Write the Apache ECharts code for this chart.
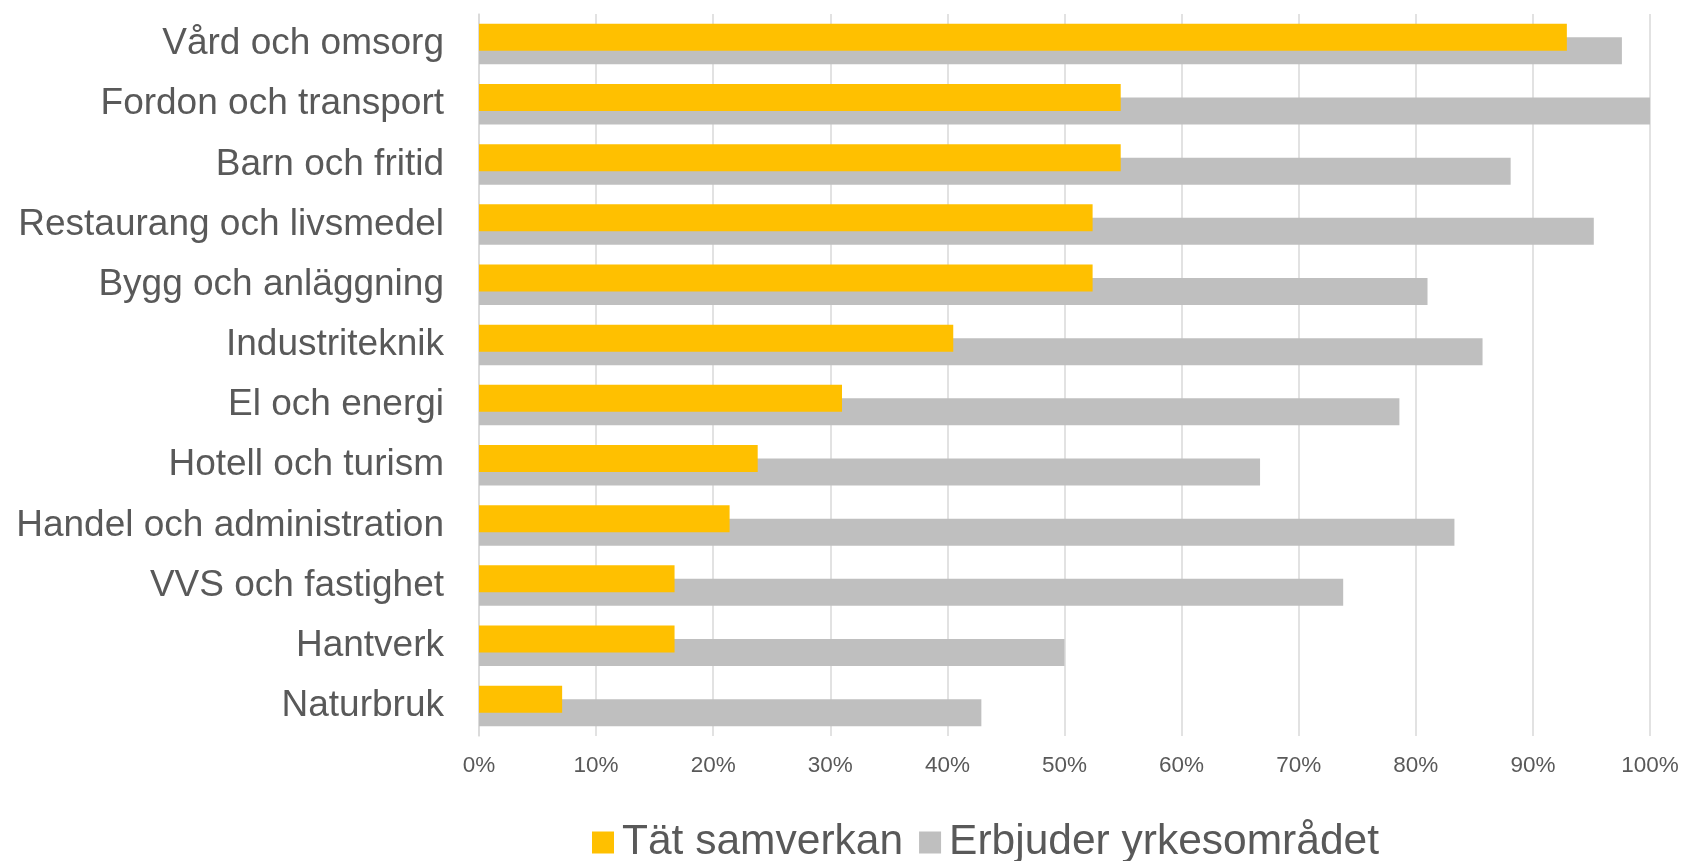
<!DOCTYPE html>
<html>
<head>
<meta charset="utf-8">
<script src="https://cdn.jsdelivr.net/npm/echarts@6/dist/echarts.min.js"></script>
<style>
html,body{margin:0;padding:0;background:#fff;}
#chart{width:1683px;height:861px;}
</style>
</head>
<body>
<div id="chart"></div>
<script>
const categories = ["Vård och omsorg","Fordon och transport","Barn och fritid","Restaurang och livsmedel","Bygg och anläggning","Industriteknik","El och energi","Hotell och turism","Handel och administration","VVS och fastighet","Hantverk","Naturbruk"];
const seriesNames = ["Tät samverkan","Erbjuder yrkesområdet"];
const tatSamverkan = [92.9,54.8,54.8,52.4,52.4,40.5,31.0,23.8,21.4,16.7,16.7,7.1];
const erbjuder = [97.6,100,88.1,95.2,81.0,85.7,78.6,66.7,83.3,73.8,50.0,42.9];
const xTicks = {min:0,max:100,interval:10};

const chart = echarts.init(document.getElementById('chart'));
const textColor = '#595959';
const font = 'Liberation Sans, Arial, sans-serif';
chart.setOption({
  animation:false,
  backgroundColor:'#fff',
  grid:{left:479,right:33,top:14,bottom:125,containLabel:false},
  legend:{
    data:seriesNames,
    left:587,
    top:816,
    itemWidth:22,itemHeight:22,itemGap:16,
    icon:'rect',
    textStyle:{fontFamily:font,fontSize:42.5,color:textColor,padding:[0,0,0,3]}
  },
  xAxis:{
    type:'value',min:xTicks.min,max:xTicks.max,interval:xTicks.interval,
    axisLine:{show:false},axisTick:{show:false},
    splitLine:{show:true,lineStyle:{color:'#D9D9D9',width:1.5}},
    axisLabel:{formatter:'{value}%',fontFamily:font,fontSize:22.5,color:textColor,margin:18}
  },
  yAxis:{
    type:'category',data:categories,inverse:true,
    axisLine:{show:true,lineStyle:{color:'#D9D9D9',width:1.5}},
    axisTick:{show:false},
    axisLabel:{fontFamily:font,fontSize:37,color:textColor,margin:35}
  },
  series:[
    {name:seriesNames[0],type:'bar',data:tatSamverkan,barWidth:27,barGap:'-50%',z:3,
     itemStyle:{color:'#FFC000'}},
    {name:seriesNames[1],type:'bar',data:erbjuder,barWidth:27,barGap:'-50%',z:2,
     itemStyle:{color:'#BFBFBF'}}
  ]
});
</script>
</body>
</html>
